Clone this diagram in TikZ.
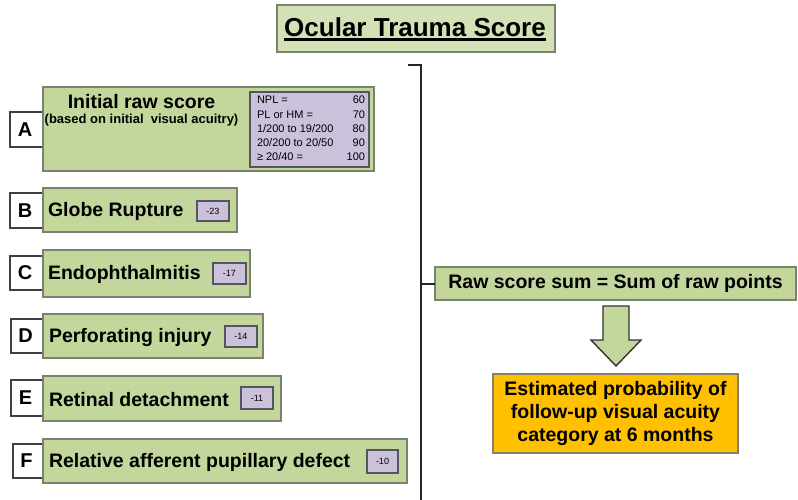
\documentclass[tikz,border=0pt]{standalone}
\usepackage{fontspec}
\setmainfont{Liberation Sans}
\definecolor{grn}{HTML}{C3D69B}
\definecolor{grnlt}{HTML}{D3E2B6}
\definecolor{grnbd}{HTML}{7A8270}
\definecolor{purp}{HTML}{CCC1DA}
\definecolor{purpbd}{HTML}{55555F}
\definecolor{orng}{HTML}{FFC000}
\definecolor{orngbd}{HTML}{85806A}
\tikzset{
  every node/.style={inner sep=0pt, outer sep=0pt},
  greenbox/.style={draw=grnbd, fill=grn, line width=1.4pt},
  letterbox/.style={draw=black!75, fill=white, line width=1.2pt, font=\fontsize{20}{22}\selectfont\bfseries},
  purpbox/.style={draw=purpbd, fill=purp, line width=1.2pt},
  pen/.style={draw=purpbd, fill=purp, line width=1.2pt, font=\fontsize{9}{10}\selectfont},
  lbl/.style={anchor=west, font=\fontsize{19.5}{22}\selectfont\bfseries},
  brk/.style={line width=2pt, black!85}
}
\begin{document}
\begin{tikzpicture}[x=1pt, y=-1pt]
\useasboundingbox (0,0) rectangle (798,499);
% title
\node[draw=grnbd, fill=grnlt, line width=1.4pt, minimum width=278pt, minimum height=47pt] (title) at (416,28.5) {};
\node[font=\fontsize{26}{28}\selectfont\bfseries] (tt) at (415,27) {Ocular Trauma Score};
\draw[line width=2.6pt] ([yshift=-3.5pt]tt.base west) -- ([yshift=-3.5pt]tt.base east);

% letter boxes
\node[letterbox, minimum width=33pt, minimum height=35pt] (la) at (26.5,129.5) {\hspace*{-3pt}A};
\node[letterbox, minimum width=33pt, minimum height=35pt] (lb) at (26.5,210.5) {\hspace*{-3pt}B};
\node[letterbox, minimum width=33pt, minimum height=34pt] (lc) at (26.5,273) {\hspace*{-3pt}C};
\node[letterbox, minimum width=32pt, minimum height=34pt] (ld) at (27,336) {\hspace*{-3pt}D};
\node[letterbox, minimum width=32pt, minimum height=36pt] (le) at (27,398) {\hspace*{-3pt}E};
\node[letterbox, minimum width=30pt, minimum height=34pt] (lf) at (28,461) {\hspace*{-3pt}F};

% green boxes
\node[greenbox, minimum width=331pt, minimum height=84pt] (ba) at (208.5,129) {};
\node[greenbox, minimum width=194pt, minimum height=44pt] (bb) at (140,210) {};
\node[greenbox, minimum width=207pt, minimum height=47pt] (bc) at (146.5,273.5) {};
\node[greenbox, minimum width=220pt, minimum height=44pt] (bd) at (153,336) {};
\node[greenbox, minimum width=238pt, minimum height=45pt] (be) at (162,398.5) {};
\node[greenbox, minimum width=364pt, minimum height=44pt] (bf) at (225,461) {};

% A contents
\node[font=\fontsize{19.5}{22}\selectfont\bfseries] (ta1) at (141.5,102) {Initial raw score};
\node[font=\fontsize{13}{15}\selectfont\bfseries] (ta2) at (141.5,120) {(based on initial\ \ visual acuitry)};
\node[purpbox, minimum width=119pt, minimum height=75pt] (pa) at (309.5,129.5) {};
\node[font=\fontsize{11}{14.3}\selectfont] (tab) at (311,129.5) {%
  \begin{tabular*}{108pt}{@{}l@{\extracolsep{\fill}}r@{}}
  NPL = & 60\\
  PL or HM = & 70\\
  1/200 to 19/200 & 80\\
  20/200 to 20/50 & 90\\
  ≥ 20/40 = & 100
  \end{tabular*}};

% labels
\node[lbl] (tb) at (48,211) {Globe Rupture};
\node[lbl] (tc) at (48,274.5) {Endophthalmitis};
\node[lbl] (td) at (49,337) {Perforating injury};
\node[lbl] (te) at (49,399.5) {Retinal detachment};
\node[lbl] (tf) at (49,462) {Relative afferent pupillary defect};

% penalties
\node[pen, minimum width=32pt, minimum height=20pt] (pb) at (213,211) {-23};
\node[pen, minimum width=33pt, minimum height=21pt] (pc) at (229.5,273.5) {-17};
\node[pen, minimum width=32pt, minimum height=21pt] (pd) at (241,336.5) {-14};
\node[pen, minimum width=32pt, minimum height=22pt] (pe) at (257,398) {-11};
\node[pen, minimum width=31pt, minimum height=23pt] (pf) at (382.5,461.5) {-10};

% right side
\node[greenbox, minimum width=361pt, minimum height=33pt, font=\fontsize{19.5}{22}\selectfont\bfseries] (raw) at (615.5,283.5) {Raw score sum = Sum of raw points};
\node[draw=orngbd, fill=orng, line width=1.4pt, minimum width=245pt, minimum height=79pt,
      align=center, font=\fontsize{19.5}{23}\selectfont\bfseries] (est) at (615.5,413.5)
      {Estimated probability of\\follow-up visual acuity\\category at 6 months};

% bracket
\coordinate (btop) at (408,65);
\coordinate (bcor) at (421,65);
\coordinate (bbot) at (421,500);
\coordinate (bmid) at (421,283.5);
\draw[brk] (btop) -- (bcor) -- (bbot);
\draw[brk] (bmid) -- (raw.west);

% block arrow
\draw[draw=black!80, fill=grn, line width=1.4pt, line join=miter]
  (603,306) -- (629,306) -- (629,340) -- (641,340) -- (616,366) -- (591,340) -- (603,340) -- cycle;
\end{tikzpicture}
\end{document}
